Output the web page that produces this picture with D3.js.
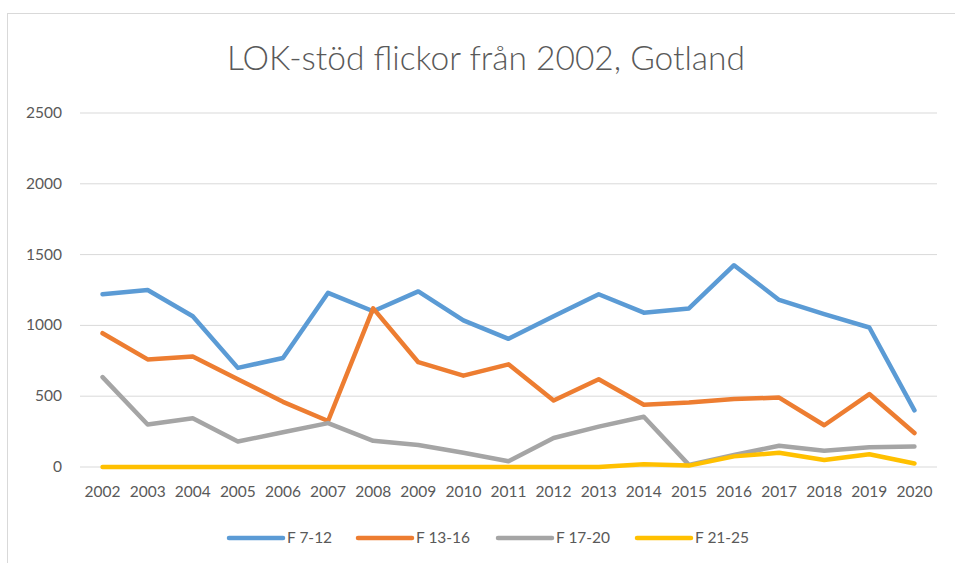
<!DOCTYPE html>
<html>
<head>
<meta charset="utf-8">
<script src="https://cdn.jsdelivr.net/npm/d3@7"></script>
<style>
  body { margin: 0; background: #fff; }
  svg { display: block; font-family: Lato, "Open Sans", sans-serif; }
</style>
</head>
<body>
<svg id="chart" width="955" height="563"></svg>
<script>
const years = ['2002','2003','2004','2005','2006','2007','2008','2009','2010','2011',
  '2012','2013','2014','2015','2016','2017','2018','2019','2020'];
const f7_12 = [1220,1250,1065,700,770,1230,1100,1240,1035,905,1065,1220,1090,1120,1425,1180,1080,985,400];
const f13_16 = [945,760,780,620,460,325,1120,740,645,725,470,620,440,455,480,490,295,515,240];
const f17_20 = [635,300,345,180,245,310,185,155,100,40,205,285,355,15,85,150,115,140,145];
const f21_25 = [0,0,0,0,0,0,0,0,0,0,0,0,20,10,75,100,50,90,25];
const yTicks = [0,500,1000,1500,2000,2500];

const series = [
  { name: 'F 7-12', values: f7_12, color: '#5B9BD5' },
  { name: 'F 13-16', values: f13_16, color: '#ED7D31' },
  { name: 'F 17-20', values: f17_20, color: '#A5A5A5' },
  { name: 'F 21-25', values: f21_25, color: '#FFC000' }
];

const svg = d3.select('#chart');
const textColor = '#595959';

// chart frame
svg.append('rect')
  .attr('x', 7.5).attr('y', 13.5)
  .attr('width', 1000).attr('height', 600)
  .attr('fill', 'none')
  .attr('stroke', '#d9d9d9');

svg.append('text')
  .attr('x', 486).attr('y', 70)
  .attr('text-anchor', 'middle')
  .attr('fill', textColor)
  .style('font-size', '33.5px')
  .style('font-weight', 300)
  .text('LOK-stöd flickor från 2002, Gotland');

const x = d3.scaleBand().domain(years).range([80, 937]);
const y = d3.scaleLinear().domain([0, 2500]).range([467, 113]);

// gridlines
svg.append('g')
  .selectAll('line')
  .data(yTicks)
  .join('line')
    .attr('x1', 80).attr('x2', 937)
    .attr('y1', d => y(d)).attr('y2', d => y(d))
    .attr('stroke', '#d9d9d9')
    .attr('stroke-width', 1);

svg.append('g')
  .selectAll('text')
  .data(yTicks)
  .join('text')
    .attr('x', 62).attr('y', d => y(d) + 5)
    .attr('text-anchor', 'end')
    .attr('fill', textColor)
    .style('font-size', '15.5px')
    .text(d => d);

svg.append('g')
  .selectAll('text')
  .data(years)
  .join('text')
    .attr('x', d => x(d) + x.bandwidth() / 2)
    .attr('y', 497)
    .attr('text-anchor', 'middle')
    .attr('fill', textColor)
    .style('font-size', '15.5px')
    .text(d => d);

const line = d3.line()
  .x((d, i) => x(years[i]) + x.bandwidth() / 2)
  .y(d => y(d));

svg.append('g')
  .selectAll('path')
  .data(series)
  .join('path')
    .attr('d', d => line(d.values))
    .attr('fill', 'none')
    .attr('stroke', d => d.color)
    .attr('stroke-width', 4.5)
    .attr('stroke-linecap', 'round')
    .attr('stroke-linejoin', 'round');

// legend
const legendX = [229, 358, 498, 637];
const legend = svg.append('g')
  .selectAll('g')
  .data(series)
  .join('g')
    .attr('transform', (d, i) => `translate(${legendX[i]},538)`);

legend.append('line')
  .attr('x1', 0).attr('x2', 54)
  .attr('stroke', d => d.color)
  .attr('stroke-width', 4.5)
  .attr('stroke-linecap', 'round');

legend.append('text')
  .attr('x', 58).attr('y', 5)
  .attr('fill', textColor)
  .style('font-size', '15.5px')
  .text(d => d.name);
</script>
</body>
</html>
